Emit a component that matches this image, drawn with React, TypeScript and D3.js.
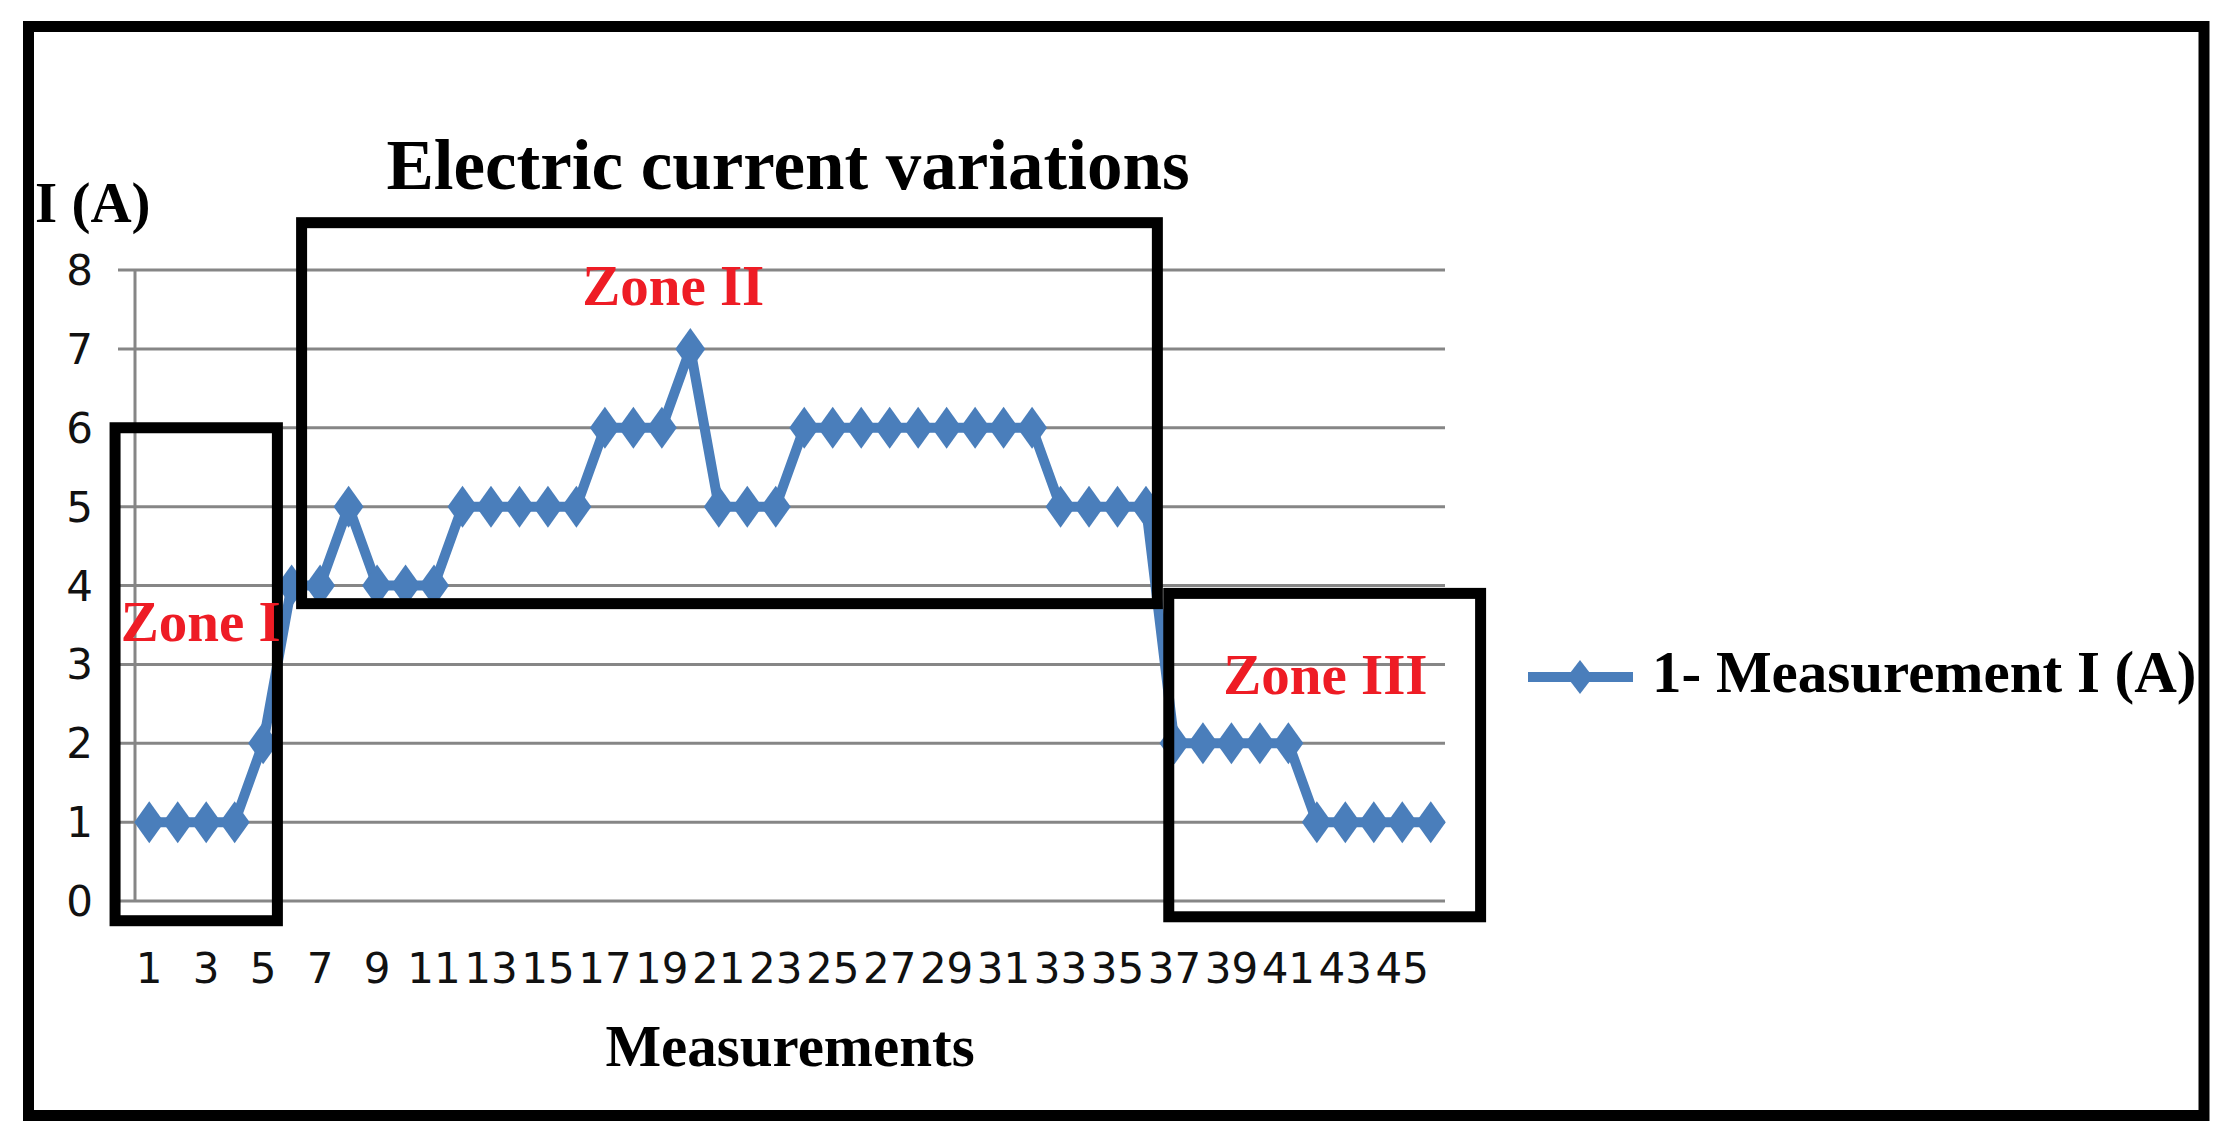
import * as d3 from "d3";

// measurement index (category axis) and the current read at each one
const categories = [
  1, 2, 3, 4, 5, 6, 7, 8, 9, 10, 11, 12, 13, 14, 15, 16, 17, 18, 19, 20, 21, 22, 23,
  24, 25, 26, 27, 28, 29, 30, 31, 32, 33, 34, 35, 36, 37, 38, 39, 40, 41, 42, 43, 44, 45, 46,
];
const currentValues = [
  1, 1, 1, 1, 2, 4, 4, 5, 4, 4, 4, 5, 5, 5, 5, 5, 6, 6, 6, 7, 5, 5, 5,
  6, 6, 6, 6, 6, 6, 6, 6, 6, 5, 5, 5, 5, 2, 2, 2, 2, 2, 1, 1, 1, 1, 1,
];
const yTicks = [0, 1, 2, 3, 4, 5, 6, 7, 8];
const xTickLabels = categories.filter((c) => c % 2 === 1);

// zone boxes, in category slots (x) and amperes (y)
const zones = [
  { name: "Zone I", from: -0.7, to: 5, low: -0.25, high: 6, labelSlot: -0.5, labelValue: 3.3, anchor: "start" },
  { name: "Zone II", from: 5.85, to: 35.9, low: 3.77, high: 8.6, labelSlot: 18.9, labelValue: 7.55, anchor: "middle" },
  { name: "Zone III", from: 36.3, to: 47.25, low: -0.2, high: 3.9, labelSlot: 41.8, labelValue: 2.63, anchor: "middle" },
];

const W = 2226;
const H = 1142;
const PLOT = { left: 135, right: 1445, top: 270, bottom: 901 };
const BLUE = "#4a7ebb";
const GRID = "#868686";
const SERIF = "'Liberation Serif', 'Times New Roman', serif";
const SANS = "'DejaVu Sans', Verdana, sans-serif";

const diamond = (hw: number, hh: number) => `M0,${-hh}L${hw},0L0,${hh}L${-hw},0Z`;

export default function App() {
  const x = d3
    .scaleBand<string>()
    .domain(categories.map(String))
    .range([PLOT.left, PLOT.right])
    .padding(0);
  const slot = d3.scaleLinear().domain([0, categories.length]).range([PLOT.left, PLOT.right]);
  const y = d3.scaleLinear().domain([0, 8]).range([PLOT.bottom, PLOT.top]);
  const cx = (c: number) => (x(String(c)) ?? 0) + x.bandwidth() / 2;

  const line = d3
    .line<number>()
    .x((_, i) => cx(categories[i]))
    .y((d) => y(d));

  return (
    <svg
      width={W}
      height={H}
      style={{ position: "absolute", left: 0, top: 0, display: "block", background: "#fff" }}
    >
      <rect x={0} y={0} width={W} height={H} fill="#fff" />

      {/* gridlines + value axis */}
      {yTicks.map((t) => (
        <line key={t} x1={PLOT.left - 17} x2={PLOT.right} y1={y(t)} y2={y(t)} stroke={GRID} strokeWidth={3} />
      ))}
      <line x1={PLOT.left} x2={PLOT.left} y1={y(8)} y2={y(0)} stroke={GRID} strokeWidth={3} />

      {yTicks.map((t) => (
        <text key={t} x={93} y={y(t) + 15} textAnchor="end" fontFamily={SANS} fontSize={42} fill="#111">
          {t}
        </text>
      ))}
      {xTickLabels.map((c) => (
        <text key={c} x={cx(c)} y={983} textAnchor="middle" fontFamily={SANS} fontSize={42} fill="#111">
          {c}
        </text>
      ))}

      {/* series */}
      <path d={line(currentValues) ?? ""} fill="none" stroke={BLUE} strokeWidth={10} strokeLinejoin="round" />
      {currentValues.map((v, i) => (
        <path key={i} transform={`translate(${cx(categories[i])},${y(v)})`} d={diamond(15, 21)} fill={BLUE} />
      ))}

      {/* zone boxes */}
      {zones.map((z) => (
        <rect
          key={z.name}
          x={slot(z.from)}
          y={y(z.high)}
          width={slot(z.to) - slot(z.from)}
          height={y(z.low) - y(z.high)}
          fill="none"
          stroke="#000"
          strokeWidth={11}
        />
      ))}
      {zones.map((z) => (
        <text
          key={z.name}
          x={slot(z.labelSlot)}
          y={y(z.labelValue)}
          textAnchor={z.anchor as any}
          fontFamily={SERIF}
          fontWeight="bold"
          fontSize={57}
          fill="#ee1c25"
        >
          {z.name}
        </text>
      ))}

      {/* titles */}
      <text x={788} y={189} textAnchor="middle" fontFamily={SERIF} fontWeight="bold" fontSize={71}>
        Electric current variations
      </text>
      <text x={35} y={222} fontFamily={SERIF} fontWeight="bold" fontSize={57}>
        I (A)
      </text>
      <text x={790} y={1066} textAnchor="middle" fontFamily={SERIF} fontWeight="bold" fontSize={59}>
        Measurements
      </text>

      {/* legend */}
      <line x1={1528} x2={1633} y1={677} y2={677} stroke={BLUE} strokeWidth={10} />
      <path transform="translate(1580,677)" d={diamond(13, 17)} fill={BLUE} />
      <text x={1652} y={692} fontFamily={SERIF} fontWeight="bold" fontSize={59}>
        1- Measurement I (A)
      </text>

      {/* outer frame */}
      <rect x={28.5} y={26.5} width={2175.5} height={1089} fill="none" stroke="#000" strokeWidth={11} />
    </svg>
  );
}
